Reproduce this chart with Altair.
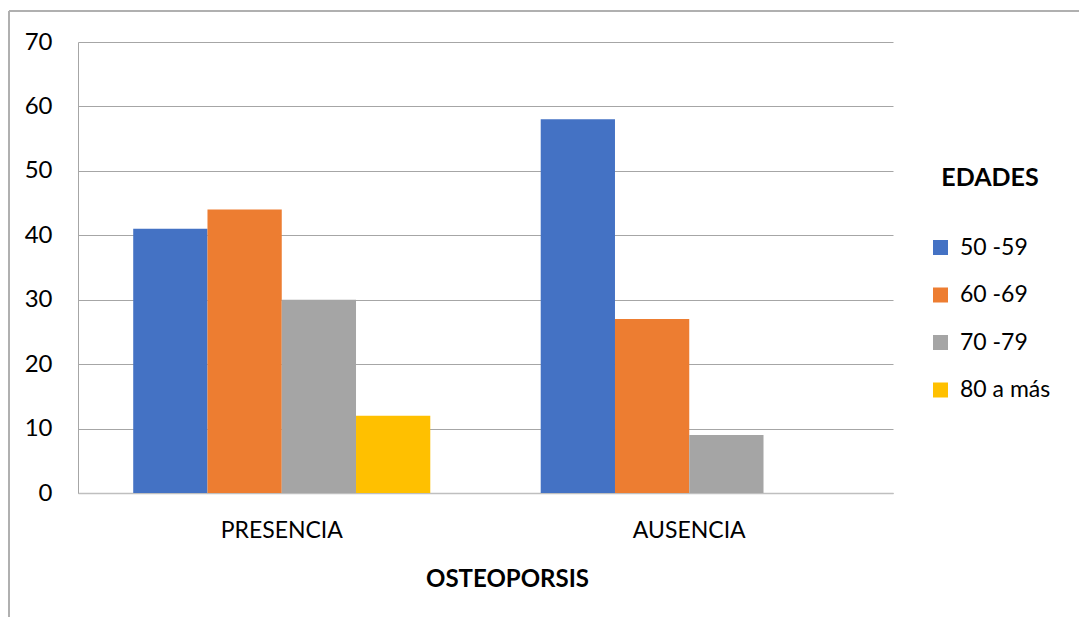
import altair as alt
import pandas as pd

# Osteoporosis presence by age group
categorias = ["PRESENCIA", "AUSENCIA"]
edades = ["50 -59", "60 -69", "70 -79", "80 a más"]
presencia = [41, 44, 30, 12]
ausencia = [58, 27, 9, 0]
colores = ["#4472C4", "#ED7D31", "#A5A5A5", "#FFC000"]

rows = []
for cat, vals in zip(categorias, [presencia, ausencia]):
    for edad, v in zip(edades, vals):
        rows.append({"categoria": cat, "edad": edad, "valor": v})
df = pd.DataFrame(rows)

FONT = "Lato"
GRID = "#a6a6a6"

W, H = 815, 451
PAD_L, PAD_T = 78, 42

bars = alt.Chart(df).mark_bar().encode(
    x=alt.X(
        "categoria:N",
        sort=categorias,
        scale=alt.Scale(paddingInner=0.271, paddingOuter=0.1355),
        axis=alt.Axis(
            title="OSTEOPORSIS",
            labelAngle=0,
            ticks=False,
            domain=True,
            domainColor="#bfbfbf",
            domainWidth=1.5,
            labelPadding=26,
            labelFont=FONT,
            labelFontSize=23,
            labelColor="#000000",
            titleFont=FONT,
            titleFontSize=24,
            titleFontWeight="bold",
            titleColor="#000000",
            titlePadding=25,
            titleX=429,
        ),
    ),
    xOffset=alt.XOffset("edad:N", sort=edades),
    y=alt.Y(
        "valor:Q",
        scale=alt.Scale(domain=[0, 70], nice=False),
        axis=alt.Axis(
            title=None,
            values=list(range(0, 71, 10)),
            grid=True,
            gridColor=GRID,
            gridWidth=1,
            ticks=False,
            domain=True,
            domainColor=GRID,
            labelPadding=26,
            labelFont=FONT,
            labelFontSize=24,
            labelColor="#000000",
        ),
    ),
    color=alt.Color(
        "edad:N",
        sort=edades,
        scale=alt.Scale(domain=edades, range=colores),
        legend=alt.Legend(
            title="EDADES",
            orient="none",
            legendX=851,
            legendY=124,
            titleFont=FONT,
            titleFontSize=25,
            titleFontWeight="bold",
            titleColor="#000000",
            titleAnchor="middle",
            titlePadding=45,
            labelFont=FONT,
            labelFontSize=23,
            labelColor="#000000",
            labelOffset=8,
            symbolType="square",
            symbolSize=225,
            symbolStrokeWidth=0,
            rowPadding=23.5,
        ),
    ),
)

# Outer frame of the chart area (top and left edges)
frame_top = alt.Chart(df).mark_rule(color="#b0b0b0", strokeWidth=1.5).encode(
    x=alt.value(9 - PAD_L), x2=alt.value(1079 - PAD_L), y=alt.value(11 - PAD_T)
)
frame_left = alt.Chart(df).mark_rule(color="#b0b0b0", strokeWidth=1.5).encode(
    x=alt.value(9 - PAD_L), y=alt.value(11 - PAD_T), y2=alt.value(617 - PAD_T)
)

chart = (
    alt.layer(bars, frame_top, frame_left)
    .properties(
        width=W,
        height=H,
        autosize=alt.AutoSizeParams(type="none"),
        padding={"left": PAD_L, "top": PAD_T, "right": 1079 - PAD_L - W, "bottom": 617 - PAD_T - H},
        background="#ffffff",
    )
    .configure_view(stroke=None)
)

chart.save("out.html", embed_options={"renderer": "svg", "actions": False})
